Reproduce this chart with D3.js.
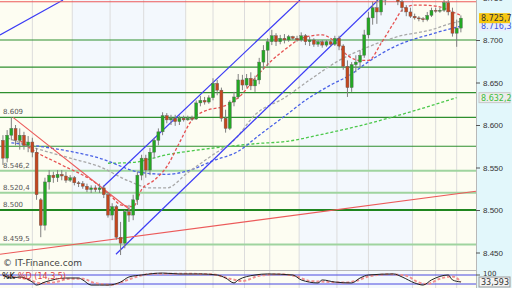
<!DOCTYPE html>
<html>
<head>
<meta charset="utf-8">
<script src="https://cdn.jsdelivr.net/npm/d3@7"></script>
<style>
  body { margin: 0; background: #fff; }
  svg { display: block; font-family: "DejaVu Sans", sans-serif; }
</style>
</head>
<body>
<svg id="chart" width="512" height="288"></svg>
<script>
// candles, oldest first
const opens = [8.582,8.561,8.588,8.596,8.582,8.588,8.576,8.580,8.568,8.512,
  8.482,8.533,8.541,8.538,8.542,8.540,8.535,8.538,8.532,8.531,
  8.528,8.524,8.526,8.524,8.526,8.518,8.494,8.504,8.468,8.461,
  8.498,8.494,8.512,8.541,8.561,8.547,8.568,8.582,8.592,8.611,
  8.606,8.608,8.604,8.608,8.606,8.608,8.607,8.626,8.629,8.627,
  8.632,8.649,8.641,8.608,8.596,8.627,8.633,8.653,8.647,8.655,
  8.646,8.653,8.674,8.688,8.698,8.705,8.698,8.702,8.700,8.704,
  8.702,8.700,8.705,8.698,8.700,8.695,8.698,8.694,8.698,8.695,
  8.702,8.693,8.669,8.644,8.671,8.674,8.682,8.706,8.726,8.738,
  8.733,8.747,8.756,8.761,8.753,8.745,8.738,8.733,8.728,8.726,
  8.725,8.724,8.729,8.735,8.734,8.735,8.744,8.733,8.708,8.714];
const highs = [8.588,8.594,8.609,8.600,8.596,8.592,8.587,8.585,8.573,8.514,
  8.538,8.547,8.545,8.547,8.547,8.545,8.541,8.540,8.534,8.534,
  8.531,8.529,8.529,8.531,8.529,8.521,8.508,8.506,8.486,8.500,
  8.506,8.518,8.545,8.565,8.565,8.573,8.585,8.596,8.615,8.614,
  8.612,8.612,8.611,8.611,8.611,8.611,8.629,8.634,8.633,8.635,
  8.655,8.653,8.644,8.618,8.629,8.639,8.660,8.659,8.660,8.662,
  8.658,8.679,8.694,8.702,8.712,8.708,8.706,8.707,8.706,8.705,
  8.705,8.709,8.707,8.704,8.702,8.700,8.700,8.700,8.700,8.705,
  8.705,8.695,8.676,8.674,8.682,8.688,8.712,8.733,8.745,8.747,
  8.753,8.765,8.771,8.768,8.759,8.751,8.741,8.738,8.731,8.728,
  8.727,8.733,8.738,8.738,8.738,8.747,8.752,8.738,8.724,8.729];
const lows = [8.553,8.556,8.582,8.576,8.571,8.571,8.568,8.562,8.512,8.468,
  8.476,8.524,8.532,8.533,8.535,8.532,8.533,8.529,8.527,8.525,
  8.521,8.520,8.521,8.520,8.514,8.491,8.488,8.465,8.447,8.455,
  8.486,8.488,8.506,8.535,8.538,8.541,8.561,8.576,8.588,8.602,
  8.600,8.599,8.600,8.604,8.605,8.605,8.606,8.622,8.624,8.625,
  8.629,8.635,8.604,8.591,8.594,8.622,8.631,8.641,8.644,8.641,
  8.639,8.648,8.665,8.669,8.694,8.693,8.695,8.696,8.698,8.700,
  8.698,8.698,8.694,8.693,8.692,8.692,8.691,8.692,8.693,8.693,
  8.688,8.665,8.633,8.639,8.662,8.667,8.679,8.702,8.718,8.719,
  8.729,8.741,8.749,8.747,8.741,8.733,8.728,8.726,8.724,8.722,
  8.721,8.722,8.727,8.732,8.732,8.733,8.729,8.704,8.692,8.709];
const closes = [8.561,8.588,8.596,8.582,8.588,8.576,8.580,8.568,8.518,8.482,
  8.533,8.541,8.538,8.542,8.540,8.535,8.538,8.532,8.531,8.528,
  8.524,8.526,8.524,8.526,8.518,8.494,8.504,8.468,8.461,8.498,
  8.494,8.512,8.541,8.561,8.547,8.568,8.582,8.592,8.611,8.606,
  8.608,8.604,8.608,8.606,8.608,8.607,8.626,8.629,8.627,8.632,
  8.649,8.641,8.608,8.596,8.627,8.633,8.653,8.647,8.655,8.646,
  8.653,8.674,8.688,8.698,8.705,8.698,8.702,8.700,8.704,8.702,
  8.700,8.705,8.698,8.700,8.695,8.698,8.694,8.698,8.695,8.702,
  8.693,8.669,8.644,8.671,8.674,8.682,8.706,8.726,8.738,8.733,
  8.747,8.756,8.761,8.753,8.745,8.738,8.733,8.728,8.726,8.725,
  8.724,8.729,8.735,8.734,8.735,8.744,8.733,8.708,8.714,8.7257];

// moving averages [candle index, price]
const maRed = [[4,8.582],[7,8.571],[14,8.553],[22,8.532],[26,8.515],[28,8.506],[31,8.504],
  [33,8.524],[36,8.535],[39,8.551],[42,8.579],[45,8.606],[49,8.618],[52,8.621],[56,8.632],
  [61,8.661],[64,8.676],[68,8.692],[71,8.702],[76,8.706],[79,8.698],[82,8.682],[85,8.676],
  [87,8.676],[90,8.696],[93,8.720],[95,8.735],[98,8.741],[100,8.741],[104,8.739],[107,8.733],[109,8.729]];
const maGray = [[1,8.585],[7,8.574],[16,8.561],[23,8.551],[30,8.534],[35,8.526],[39,8.526],
  [44,8.544],[50,8.565],[55,8.582],[60,8.612],[67,8.632],[73,8.653],[80,8.676],[87,8.692],
  [94,8.704],[102,8.712],[107,8.720],[109,8.722]];
const maBlue = [[2,8.579],[10,8.574],[23,8.561],[33,8.544],[39,8.542],[44,8.546],[50,8.558],
  [56,8.569],[61,8.588],[68,8.614],[72,8.629],[78,8.647],[83,8.660],[86,8.671],[94,8.694],
  [102,8.707],[109,8.7163]];
const maGreen = [[25,8.555],[31,8.556],[39,8.565],[47,8.571],[54,8.575],[60,8.578],[68,8.581],
  [75,8.588],[84,8.598],[96,8.614],[108,8.6322]];

// drawn trend lines [[i1,p1],[i2,p2]]
const blueLines = [
  [[-0.7, 8.706], [14.3, 8.747]],
  [[23.8, 8.527], [70.7, 8.747]],
  [[26.9, 8.448], [89.3, 8.747]]
];
const redLines = [
  [[2.4, 8.609], [30.3, 8.500]],
  [[-0.7, 8.448], [112.6, 8.522]],
  [[-0.7, 8.745], [112.6, 8.745]]
];

// horizontal support / resistance levels
const levelsDark = [8.700, 8.668, 8.638, 8.609, 8.575];
const levelsLight = [8.5462, 8.5204, 8.4595];
const levelBold = 8.500;
const levelLabels = [[8.609, "8.609"], [8.5462, "8.546,2"], [8.5204, "8.520,4"], [8.500, "8.500"], [8.4595, "8.459,5"]];

const priceTicks = [8.450, 8.500, 8.550, 8.600, 8.650, 8.700, 8.750];
const sessionBreaks = [16.5, 43.5, 70.5, 97.5];
const gridIdx = [7, 16.5, 25.5, 33.5, 43.5, 50, 57.5, 63.5, 70.5, 79.5, 87, 97.5, 103, 108];

// stochastic
const stochK = [[0,80],[2,60],[4,67],[7,33],[8,13],[10,33],[15,60],[18,60],[19,47],[21,13],
  [23,13],[25,13],[28,33],[30,67],[33,80],[38,93],[42,87],[47,87],[51,80],[53,60],[55,27],
  [56,47],[60,80],[63,87],[69,80],[71,47],[75,27],[76,47],[79,33],[83,27],[85,60],[87,80],
  [93,87],[95,67],[98,27],[100,13],[102,47],[106,80],[107,47],[109,33.593]];
const stochD = [[0,75],[3,65],[6,50],[9,25],[12,30],[16,55],[19,55],[22,25],[26,15],[29,40],
  [32,70],[36,88],[44,88],[50,84],[54,55],[57,40],[61,75],[66,85],[70,70],[73,40],[77,35],
  [81,30],[84,40],[87,70],[92,85],[96,75],[99,30],[101,20],[104,55],[107,70],[109,35]];
const stochLevels = [20, 80];

const svg = d3.select("#chart");
const plotW = 476, plotH = 269;
const x = d3.scaleLinear().domain([-0.7, 112.6]).range([0, plotW]);
const y = d3.scaleLinear().domain([8.450, 8.750]).range([252.5, -2.5]);
const ys = d3.scaleLinear().domain([0, 100]).range([287, 272]);

// european number format, e.g. 8.725,7
const euro = (v, d) => {
  const s = v.toFixed(d).split(".");
  return d === 4 ? `${s[0]}.${s[1].slice(0, 3)},${s[1].slice(3)}` : s.join(",");
};

// right axis background
svg.append("rect").attr("x", plotW).attr("y", 0).attr("width", 512 - plotW).attr("height", 288).attr("fill", "#e2f7fb");

// session bands
const bands = [-0.7, ...sessionBreaks, 112.6];
for (let k = 0; k < bands.length - 1; k++) {
  svg.append("rect")
    .attr("x", x(bands[k])).attr("y", 0)
    .attr("width", x(bands[k + 1]) - x(bands[k])).attr("height", 288)
    .attr("fill", k % 2 ? "#f3f8fd" : "#fdfdf2");
}

// grid
svg.append("g").selectAll("line").data(gridIdx).join("line")
  .attr("x1", d => x(d)).attr("x2", d => x(d))
  .attr("y1", 0).attr("y2", 288)
  .attr("stroke", "#dcdcdc").attr("stroke-width", 1);

svg.append("defs").append("clipPath").attr("id", "clip")
  .append("rect").attr("width", plotW).attr("height", plotH);
const main = svg.append("g").attr("clip-path", "url(#clip)");

// levels
main.selectAll(".lvl-l").data(levelsLight).join("line")
  .attr("x1", 0).attr("x2", plotW)
  .attr("y1", d => y(d)).attr("y2", d => y(d))
  .attr("stroke", "#9fd49f").attr("stroke-width", 2);
main.selectAll(".lvl-d").data(levelsDark).join("line")
  .attr("x1", 0).attr("x2", plotW)
  .attr("y1", d => y(d)).attr("y2", d => y(d))
  .attr("stroke", "#2f8f2f").attr("stroke-width", 1.2);
main.append("line")
  .attr("x1", 0).attr("x2", plotW)
  .attr("y1", y(levelBold)).attr("y2", y(levelBold))
  .attr("stroke", "#1f861f").attr("stroke-width", 2.2);

main.selectAll(".lvl-t").data(levelLabels).join("text")
  .attr("x", 3).attr("y", d => y(d[0]) - 3)
  .attr("font-size", 7).attr("fill", "#555")
  .text(d => d[1]);

// moving averages
const maLine = d3.line().x(d => x(d[0])).y(d => y(d[1])).curve(d3.curveMonotoneX);
const mas = [[maGreen, "#4cc84c"], [maBlue, "#4a62e6"], [maGray, "#a8a8a8"], [maRed, "#e65050"]];
mas.forEach(([data, color]) => {
  main.append("path").datum(data)
    .attr("d", maLine).attr("fill", "none")
    .attr("stroke", color).attr("stroke-width", 1.3)
    .attr("stroke-dasharray", "3,2");
});

// trend lines
const seg = d3.line().x(d => x(d[0])).y(d => y(d[1]));
blueLines.forEach(l => {
  main.append("path").attr("d", seg(l)).attr("stroke", "#3b3bf5").attr("stroke-width", 1.2).attr("fill", "none");
});
redLines.forEach(l => {
  main.append("path").attr("d", seg(l)).attr("stroke", "#ec5a5a").attr("stroke-width", 1.1).attr("fill", "none");
});

// candles
const candles = main.append("g").selectAll("g").data(d3.range(opens.length)).join("g");
candles.append("line")
  .attr("x1", i => x(i)).attr("x2", i => x(i))
  .attr("y1", i => y(highs[i])).attr("y2", i => y(lows[i]))
  .attr("stroke", "#808080").attr("stroke-width", 1);
candles.append("rect")
  .attr("x", i => x(i) - 1.5).attr("width", 3)
  .attr("y", i => y(Math.max(opens[i], closes[i])))
  .attr("height", i => Math.max(1, Math.abs(y(opens[i]) - y(closes[i]))))
  .attr("fill", i => closes[i] >= opens[i] ? "#22a822" : "#c4461e")
  .attr("stroke", "#606060").attr("stroke-width", 0.4);

// watermark
svg.append("text").attr("x", 3).attr("y", 266)
  .attr("font-size", 9).attr("fill", "#444")
  .text("\u00a9 IT-Finance.com");

// panel separators
svg.append("line").attr("x1", 0).attr("x2", plotW).attr("y1", 270.5).attr("y2", 270.5).attr("stroke", "#b8b8b8");
svg.append("line").attr("x1", plotW + 0.5).attr("x2", plotW + 0.5).attr("y1", 0).attr("y2", 288).attr("stroke", "#b8b8b8");

// price axis
const axis = svg.append("g").attr("transform", `translate(${plotW},0)`)
  .call(d3.axisRight(y).tickValues(priceTicks).tickSize(4).tickPadding(3)
    .tickFormat(d3.format(".3f")));
axis.select(".domain").remove();
axis.selectAll("line").attr("stroke", "#555");
axis.selectAll("text").attr("font-size", 8).attr("fill", "#333");

// last value tags
function tag(price, bg, fg, border) {
  const cy = y(price);
  svg.append("rect").attr("x", 479).attr("y", cy - 5).attr("width", 31).attr("height", 10)
    .attr("fill", bg).attr("stroke", border);
  svg.append("text").attr("x", 481).attr("y", cy + 3)
    .attr("font-size", 8).attr("fill", fg).text(euro(price, 4));
}
tag(maGreen[maGreen.length - 1][1], "#ececec", "#3cbf3c", "#c8c8c8");
tag(maBlue[maBlue.length - 1][1], "#e8eefc", "#3a55e0", "none");
tag(closes[closes.length - 1], "#f6c710", "#333", "none");

// stochastic panel
const st = svg.append("g");
st.selectAll("line").data(stochLevels).join("line")
  .attr("x1", 0).attr("x2", plotW)
  .attr("y1", d => ys(d)).attr("y2", d => ys(d))
  .attr("stroke", "#4848e0").attr("stroke-width", 1);
const stLine = d3.line().x(d => x(d[0])).y(d => ys(d[1])).curve(d3.curveMonotoneX);
st.append("path").datum(stochD).attr("d", stLine).attr("fill", "none")
  .attr("stroke", "#f09090").attr("stroke-width", 2).attr("stroke-dasharray", "3,2");
st.append("path").datum(stochK).attr("d", stLine).attr("fill", "none")
  .attr("stroke", "#222").attr("stroke-width", 1);
st.append("text").attr("x", 2).attr("y", 279).attr("font-size", 8).attr("fill", "#111").text("%K");
st.append("text").attr("x", 18).attr("y", 279).attr("font-size", 8).attr("fill", "#e04040").text("%D (14,3,5)");
svg.append("text").attr("x", 483).attr("y", 276).attr("font-size", 7).attr("fill", "#333").text("100");
svg.append("line").attr("x1", plotW).attr("x2", plotW + 4).attr("y1", ys(80)).attr("y2", ys(80)).attr("stroke", "#555");
svg.append("rect").attr("x", 479).attr("y", 277).attr("width", 31).attr("height", 10)
  .attr("fill", "#f2f2f2").attr("stroke", "#999");
svg.append("text").attr("x", 481).attr("y", 285).attr("font-size", 8).attr("fill", "#333")
  .text(euro(stochK[stochK.length - 1][1], 3));
</script>
</body>
</html>
